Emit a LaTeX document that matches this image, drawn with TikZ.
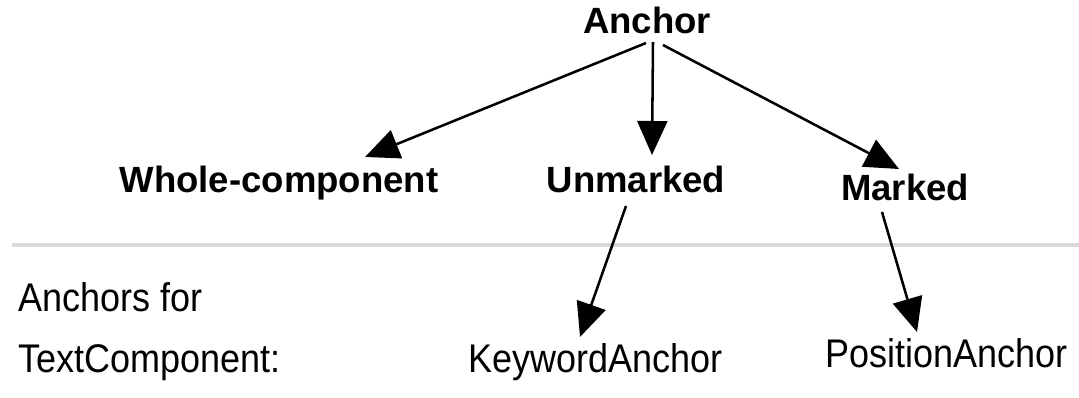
\documentclass[tikz,border=0pt]{standalone}
\usepackage{fontspec}
\setmainfont{Liberation Sans}
\newfontfamily\implfont[FakeStretch=0.9]{Liberation Sans}
\usetikzlibrary{arrows.meta,calc}
\begin{document}
\begin{tikzpicture}[x=0.75pt,y=-0.75pt,
  every node/.style={inner sep=0pt,outer sep=0pt},
  kind/.style={font=\fontsize{27.4}{31.5}\selectfont\bfseries,anchor=base},
  impl/.style={font=\implfont\fontsize{30}{45.75}\selectfont,anchor=base west},
  arr/.style={line width=1.9pt,-{Triangle[length=25.5pt,width=22.5pt]}},
  divider/.style={line width=3pt,color=black!15}]
\useasboundingbox (0,0) rectangle (1079,397);

% abstract kinds of anchors
\node[kind] (anc)   at (647,33)  {Anchor};
\node[kind] (whole) at (279,192) {Whole-component};
\node[kind] (unm)   at (636,192) {Unmarked};
\node[kind] (mkd)   at (905,200) {Marked};

% separator between the hierarchy and the concrete classes
\coordinate (sepL) at (12,245);
\coordinate (sepR) at (1079,245);
\draw[divider] (sepL) -- (sepR);

% concrete anchor classes (base = last line)
\node[impl,align=left] (cap) at (18,372) {Anchors for\\TextComponent:};
\node[impl] (kw)  at (468,372) {KeywordAnchor};
\node[impl] (pos) at (825,367) {PositionAnchor};

% specialisation arrows
\draw[arr] ($(anc.base)+(-1,10)$)  -- ($(whole.base)+(86,-35)$);
\draw[arr] ($(anc.base)+(6,9)$)    -- ($(unm.base)+(16,-37)$);
\draw[arr] ($(anc.base)+(16,12)$)  -- ($(mkd.base)+(-6,-31)$);
\draw[arr] ($(unm.base)+(-10,14)$) -- ($(kw.base west)+(112,-35)$);
\draw[arr] ($(mkd.base)+(-23,12)$) -- ($(pos.base west)+(92,-35)$);
\end{tikzpicture}
\end{document}
